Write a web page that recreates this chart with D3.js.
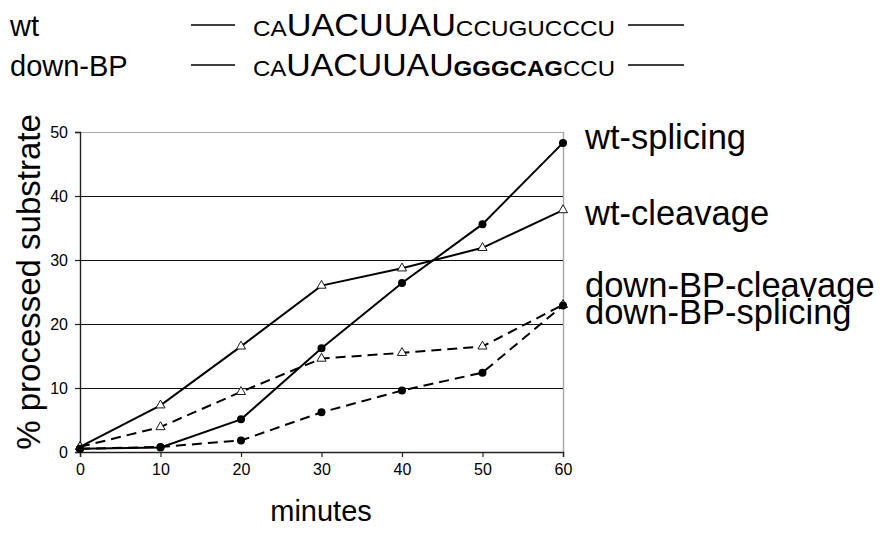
<!DOCTYPE html>
<html>
<head>
<meta charset="utf-8">
<script src="https://cdn.jsdelivr.net/npm/d3@7"></script>
<style>
  html, body { margin: 0; padding: 0; background: #fff; }
  svg { display: block; font-family: "Liberation Sans", Arial, Helvetica, sans-serif; }
</style>
</head>
<body>
<svg id="chart" width="880" height="537"></svg>
<script>
// Time points (minutes)
const minutes = [0, 10, 20, 30, 40, 50, 60];

// % processed substrate per construct / readout
const wtSplicing = [0.5, 0.7, 5.1, 16.2, 26.4, 35.6, 48.3];
const wtCleavage = [0.8, 7.3, 16.5, 26.0, 28.7, 31.9, 37.8];
const downBPCleavage = [0.8, 3.9, 9.4, 14.6, 15.5, 16.5, 23.0];
const downBPSplicing = [0.5, 0.8, 1.8, 6.2, 9.6, 12.4, 22.9];

const xTicks = [0, 10, 20, 30, 40, 50, 60];
const yTicks = [0, 10, 20, 30, 40, 50];

const series = [
  { name: "wt-splicing", values: wtSplicing, dashed: false, marker: "circle" },
  { name: "wt-cleavage", values: wtCleavage, dashed: false, marker: "triangle" },
  { name: "down-BP-cleavage", values: downBPCleavage, dashed: true, marker: "triangle" },
  { name: "down-BP-splicing", values: downBPSplicing, dashed: true, marker: "circle" }
];

const svg = d3.select("#chart");

const x = d3.scaleLinear().domain([0, 60]).range([80, 563]);
const y = d3.scaleLinear().domain([0, 50]).range([452, 132]);

// Sequence header: construct name, flanking dashes, RNA sequence
const header = svg.append("g");
function seqLine(label, yBase, parts) {
  header.append("text").attr("x", 10).attr("y", yBase)
    .attr("font-size", 29).text(label);
  header.append("line").attr("x1", 191).attr("x2", 235)
    .attr("y1", yBase - 11).attr("y2", yBase - 11)
    .attr("stroke", "#000").attr("stroke-width", 1.4);
  const t = header.append("text").attr("x", 253).attr("y", yBase)
    .attr("textLength", 362).attr("lengthAdjust", "spacingAndGlyphs");
  parts.forEach(p => {
    t.append("tspan").attr("font-size", p.size)
      .attr("font-weight", p.bold ? "bold" : "normal").text(p.s);
  });
  header.append("line").attr("x1", 628).attr("x2", 684)
    .attr("y1", yBase - 11).attr("y2", yBase - 11)
    .attr("stroke", "#000").attr("stroke-width", 1.4);
}
seqLine("wt", 36, [
  { s: "CA", size: 22 }, { s: "UACUUAU", size: 31 }, { s: "CCUGUCCCU", size: 22 }
]);
seqLine("down-BP", 76, [
  { s: "CA", size: 22 }, { s: "UACUUAU", size: 31 },
  { s: "GGGCAG", size: 22, bold: true }, { s: "CCU", size: 22 }
]);

// Plot frame (light top/right border)
svg.append("line").attr("x1", x(0)).attr("x2", x(60)).attr("y1", y(50) + 0.5).attr("y2", y(50) + 0.5)
  .attr("stroke", "#aaa").attr("stroke-width", 1);
svg.append("line").attr("x1", x(60) + 0.5).attr("x2", x(60) + 0.5).attr("y1", y(50)).attr("y2", y(0))
  .attr("stroke", "#aaa").attr("stroke-width", 1.5);

// Gridlines
svg.append("g").selectAll("line").data(yTicks.filter(d => d > 0 && d < 50)).join("line")
  .attr("x1", x(0)).attr("x2", x(60))
  .attr("y1", d => y(d) + 0.5).attr("y2", d => y(d) + 0.5)
  .attr("stroke", "#111").attr("stroke-width", 1.2);

// Axes
const yAxis = svg.append("g").attr("transform", `translate(${x(0)},0)`)
  .call(d3.axisLeft(y).tickValues(yTicks).tickSize(5).tickPadding(7));
const xAxis = svg.append("g").attr("transform", `translate(0,${y(0)})`)
  .call(d3.axisBottom(x).tickValues(xTicks).tickSize(5).tickPadding(7));
[yAxis, xAxis].forEach(a => {
  a.select(".domain").attr("stroke", "#222").attr("stroke-width", 1.4);
  a.selectAll(".tick line").attr("stroke", "#222").attr("stroke-width", 1.2);
  a.selectAll("text").attr("font-size", 16).attr("fill", "#000")
    .attr("font-family", "'Liberation Sans', Arial, sans-serif");
});

// Axis titles
svg.append("text").attr("x", 321).attr("y", 521).attr("text-anchor", "middle")
  .attr("font-size", 29).text("minutes");
svg.append("text").attr("transform", "translate(40,282) rotate(-90)")
  .attr("text-anchor", "middle").attr("font-size", 33).text("% processed substrate");

// Lines
const line = d3.line().x((d, i) => x(minutes[i])).y(d => y(d));
svg.append("g").selectAll("path").data(series).join("path")
  .attr("d", d => line(d.values))
  .attr("fill", "none").attr("stroke", "#000").attr("stroke-width", 2)
  .attr("stroke-dasharray", d => d.dashed ? "10,6" : null);

// Markers
series.forEach(s => {
  const g = svg.append("g");
  if (s.marker === "circle") {
    g.selectAll("circle").data(s.values).join("circle")
      .attr("cx", (d, i) => x(minutes[i])).attr("cy", d => y(d)).attr("r", 4)
      .attr("fill", "#000");
  } else {
    const tri = d3.symbol().type(d3.symbolTriangle).size(36);
    g.selectAll("path").data(s.values).join("path")
      .attr("transform", (d, i) => `translate(${x(minutes[i])},${y(d)})`)
      .attr("d", tri()).attr("fill", "#fff").attr("stroke", "#000").attr("stroke-width", 0.9);
  }
});

// Series labels at right
const labels = [
  { text: "wt-splicing", yb: 149 },
  { text: "wt-cleavage", yb: 225 },
  { text: "down-BP-cleavage", yb: 297 },
  { text: "down-BP-splicing", yb: 324 }
];
svg.append("g").selectAll("text").data(labels).join("text")
  .attr("x", 585).attr("y", d => d.yb).attr("font-size", 34.5).text(d => d.text);
</script>
</body>
</html>
